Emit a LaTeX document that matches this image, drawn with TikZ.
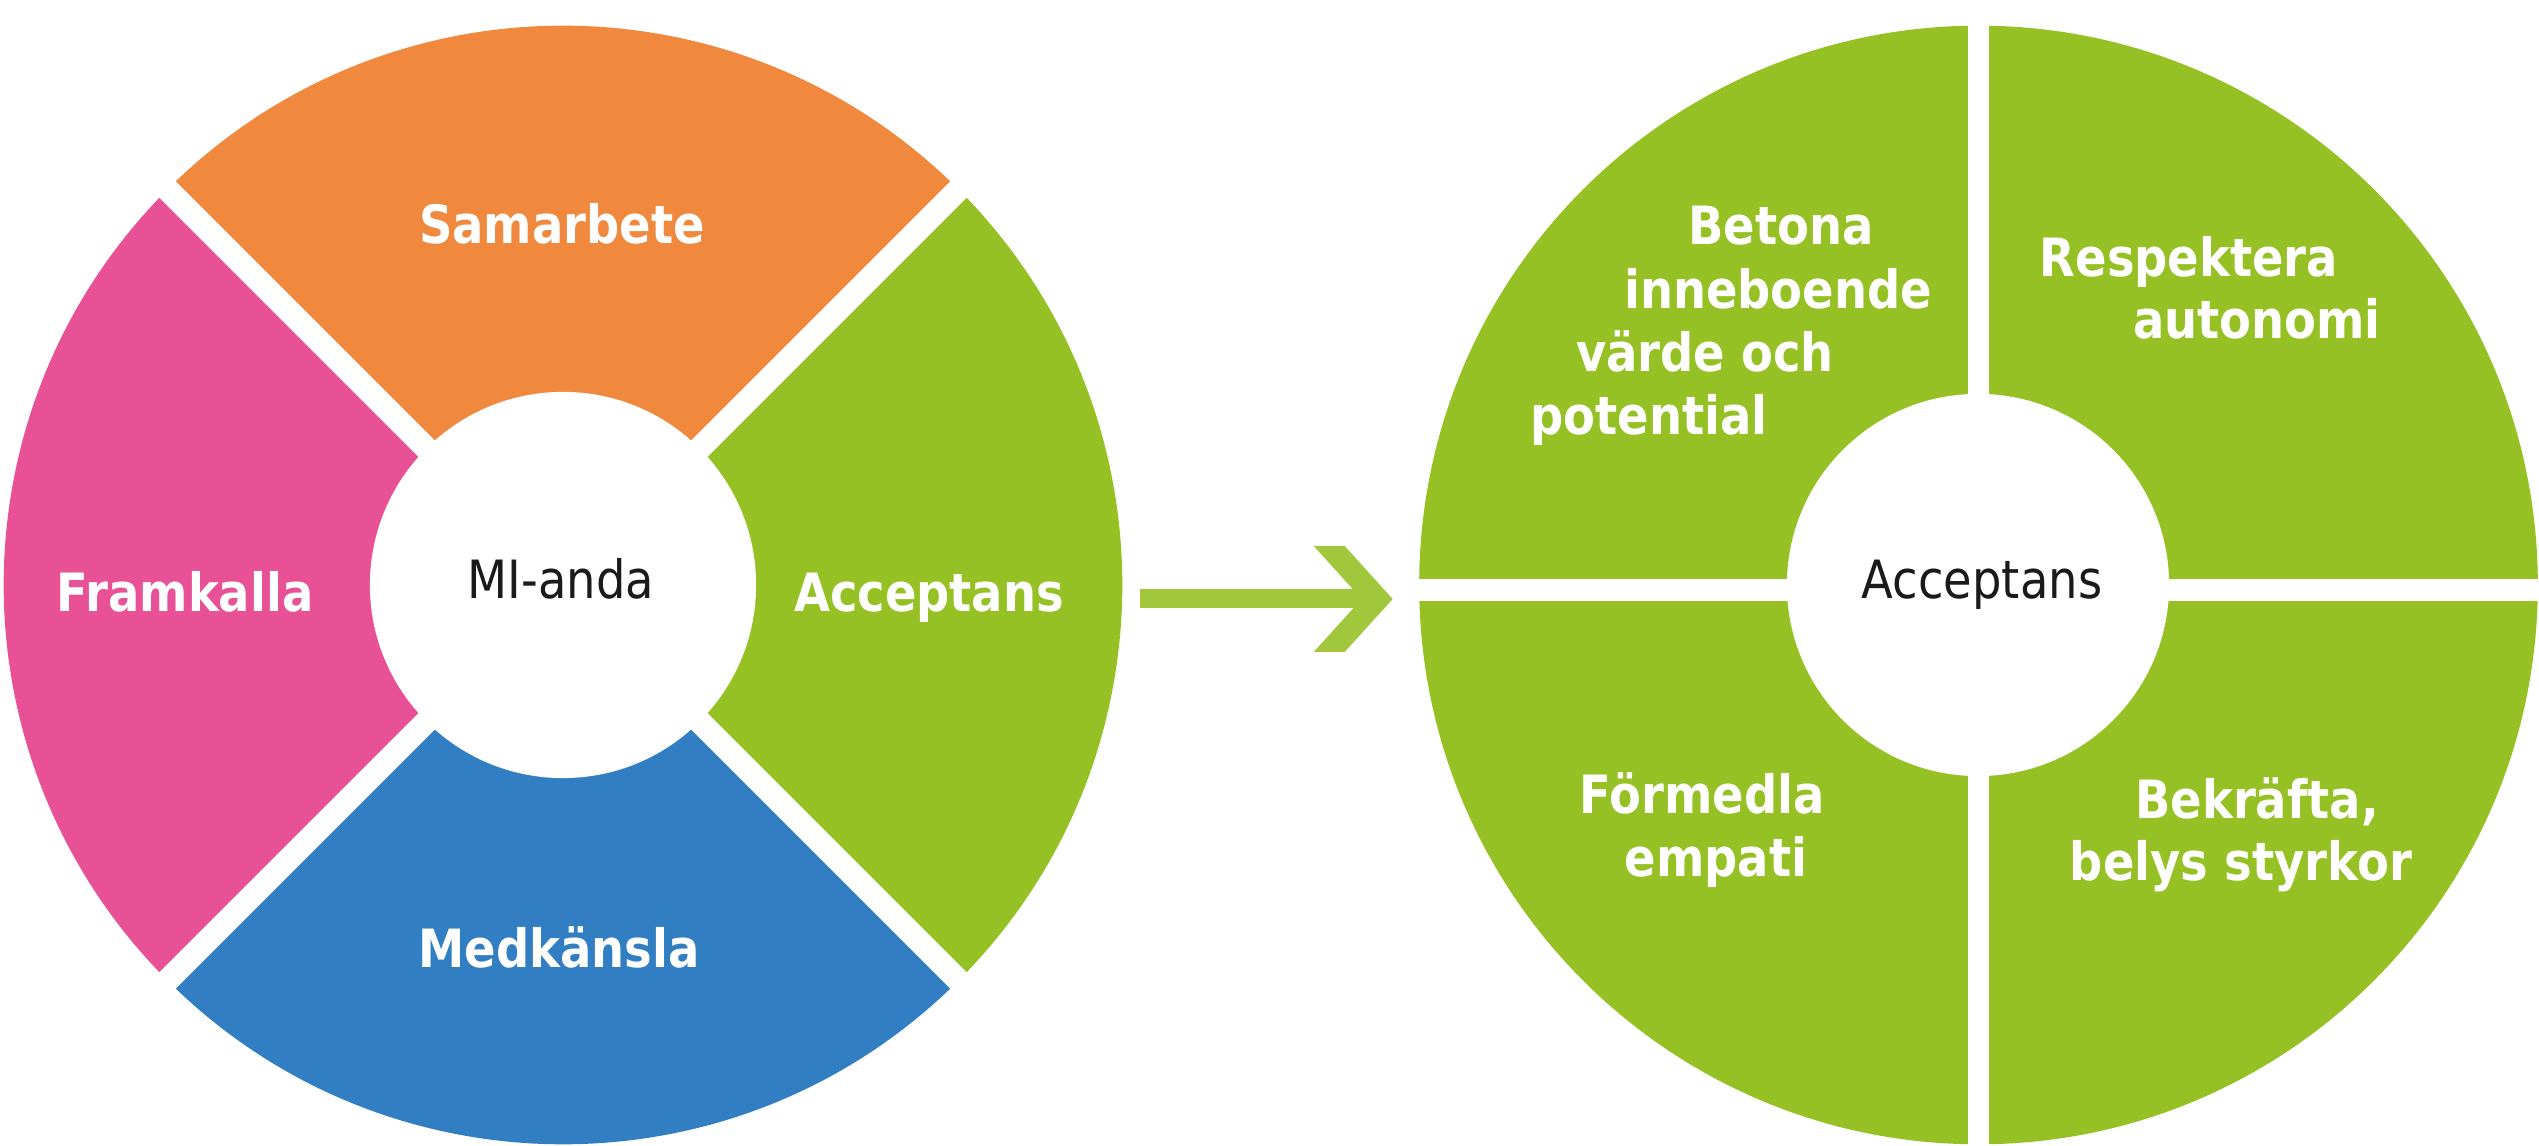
\documentclass[tikz,border=0pt]{standalone}
\usepackage{fontspec}
\newfontfamily\lab[FakeStretch=0.88]{DejaVu Sans}
\usetikzlibrary{calc}
\definecolor{cOr}{HTML}{F0883E}
\definecolor{cPk}{HTML}{E85196}
\definecolor{cBl}{HTML}{327EC2}
\definecolor{cGr}{HTML}{95C124}
\definecolor{cAr}{HTML}{A1C83C}
\definecolor{cTx}{HTML}{1A1A1A}
\begin{document}
\begin{tikzpicture}[x=0.01cm,y=0.01cm,
  wheel/.style={circle, minimum size=11.18cm, inner sep=0, outer sep=0},
  hub/.style={circle, fill=white, inner sep=0, outer sep=0},
  seglabel/.style={font=\lab\bfseries\fontsize{15}{18}\selectfont, text=white, inner sep=0, anchor=base},
  midlabel/.style={font=\lab\fontsize{15}{18}\selectfont, text=cTx, inner sep=0, anchor=base},
  gapline/.style={white, line width=0.23cm, shorten <=-6pt, shorten >=-6pt},
  gapline2/.style={white, line width=0.22cm, shorten <=-6pt, shorten >=-6pt},
  shaft/.style={cAr, line width=0.19cm}]
\useasboundingbox (0,0) rectangle (2539,1146);

% ---------- left wheel ----------
\node[wheel] (L) at (563,561) {};
\fill[cOr] (L.center) -- (L.45) arc[start angle=45, end angle=135, radius=5.59cm] -- cycle;
\fill[cPk] (L.center) -- (L.135) arc[start angle=135, end angle=225, radius=5.59cm] -- cycle;
\fill[cBl] (L.center) -- (L.225) arc[start angle=225, end angle=315, radius=5.59cm] -- cycle;
\fill[cGr] (L.center) -- (L.315) arc[start angle=-45, end angle=45, radius=5.59cm] -- cycle;
\draw[gapline] (L.45) -- (L.225);
\draw[gapline] (L.135) -- (L.315);
\node[hub, minimum size=3.86cm] (Lhub) at (L.center) {};

\node[seglabel] (samarbete) at (562,902) {Samarbete};
\node[seglabel] (framkalla) at (185,534) {Framkalla};
\node[seglabel] (acceptL) at (929,534) {Acceptans};
\node[seglabel] (medkansla) at (559,178) {Medkänsla};
\node[midlabel] (mianda) at (561,547) {MI-anda};

% ---------- right wheel ----------
\node[wheel] (R) at (1978.5,561) {};
\fill[cGr] (R.center) circle[radius=5.59cm];
\draw[gapline2, line width=0.21cm] (R.north) -- (R.south);
\draw[gapline2] ($(R.west)+(0,-5)$) -- ($(R.east)+(0,-5)$);
\node[hub, minimum size=3.82cm] (Rhub) at (1978,561) {};

\node[seglabel] (b1) at (1781,901) {Betona};
\node[seglabel] (b2) at (1778,837) {inneboende};
\node[seglabel] (b3) at (1705,774) {värde och};
\node[seglabel] (b4) at (1649,711) {potential};
\node[seglabel] (r1) at (2189,869) {Respektera};
\node[seglabel] (r2) at (2257,807) {autonomi};
\node[seglabel] (f1) at (1702,332) {Förmedla};
\node[seglabel] (f2) at (1716,269) {empati};
\node[seglabel] (k1) at (2257,327) {Bekräfta,};
\node[seglabel] (k2) at (2241,265) {belys styrkor};
\node[midlabel] (acceptR) at (1982,547) {Acceptans};

% ---------- arrow ----------
\coordinate (arrS) at ($(L.east)+(18,-14)$);
\coordinate (arrT) at ($(R.west)+(-26.5,-14)$);
\draw[shaft] (arrS) -- ($(arrT)+(-30,0)$);
\fill[cAr] (arrT) -- ++(-48,53) -- ++(-31,0) -- ++(48,-53) -- ++(-48,-53) -- ++(31,0) -- cycle;
\end{tikzpicture}
\end{document}
